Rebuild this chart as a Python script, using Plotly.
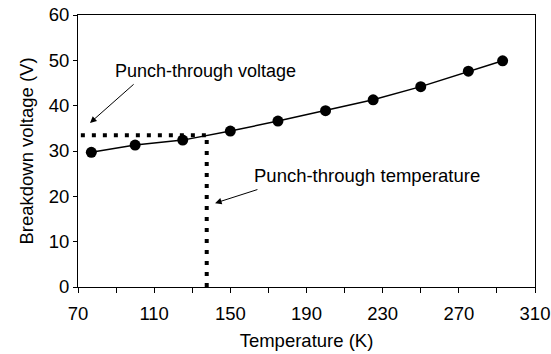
import plotly.graph_objects as go

temperature_K = [77, 100, 125, 150, 175, 200, 225, 250, 275, 293]
breakdown_V = [29.7, 31.3, 32.4, 34.4, 36.6, 38.9, 41.3, 44.2, 47.6, 49.9]

punch_T = 137.6
punch_V = 33.5

font_family = "Liberation Sans, Arial, sans-serif"

fig = go.Figure()

# dotted guide lines
fig.add_trace(go.Scatter(x=[71.5, punch_T], y=[punch_V, punch_V], mode="lines",
                         line=dict(color="black", width=4, dash="4px,7px"),
                         hoverinfo="skip", showlegend=False))
fig.add_trace(go.Scatter(x=[punch_T, punch_T], y=[0, punch_V], mode="lines",
                         line=dict(color="black", width=4, dash="4px,7px"),
                         hoverinfo="skip", showlegend=False))

fig.add_trace(go.Scatter(x=temperature_K, y=breakdown_V, mode="lines+markers",
                         line=dict(color="black", width=1.5),
                         marker=dict(color="black", size=11),
                         showlegend=False))

fig.add_annotation(x=88.4, y=47.6, xref="x", yref="y", text="Punch-through voltage",
                   showarrow=False, xanchor="left", yanchor="middle",
                   font=dict(family=font_family, size=18, color="black"))
fig.add_annotation(x=161.4, y=24.7, xref="x", yref="y", text="Punch-through temperature",
                   showarrow=False, xanchor="left", yanchor="middle",
                   font=dict(family=font_family, size=18.5, color="black"))

fig.add_annotation(x=76.3, y=36.2, ax=100, ay=45, xref="x", yref="y", axref="x", ayref="y",
                   text="", showarrow=True, arrowhead=2, arrowsize=1.3, arrowwidth=1,
                   arrowcolor="black")
fig.add_annotation(x=142, y=18.5, ax=165, ay=21.6, xref="x", yref="y", axref="x", ayref="y",
                   text="", showarrow=True, arrowhead=2, arrowsize=1.3, arrowwidth=1,
                   arrowcolor="black")

fig.update_layout(
    width=551, height=354,
    margin=dict(l=78, r=16, t=15, b=67),
    paper_bgcolor="white", plot_bgcolor="white",
    font=dict(family=font_family, size=18, color="black"),
)
fig.update_xaxes(range=[70, 310], tick0=70, dtick=40, ticks="outside", ticklen=5,
                 tickcolor="black", showline=True, linecolor="black", linewidth=1,
                 mirror=True, showgrid=False, zeroline=False, automargin=False,
                 minor=dict(dtick=20, tick0=70, ticks="outside", ticklen=5, tickcolor="black"),
                 title=dict(text="Temperature (K)", standoff=10,
                            font=dict(family=font_family, size=18.5, color="black")),
                 ticklabelstandoff=5,
                 tickfont=dict(size=18.5))
fig.update_yaxes(range=[0, 60], dtick=10, ticks="outside", ticklen=4,
                 tickcolor="black", showline=True, linecolor="black", linewidth=1,
                 mirror=True, showgrid=False, zeroline=False, automargin=False,
                 title=dict(text="Breakdown voltage (V)", standoff=10,
                            font=dict(family=font_family, size=18.5, color="black")),
                 tickfont=dict(size=18.5))

fig.write_html("out.html")
